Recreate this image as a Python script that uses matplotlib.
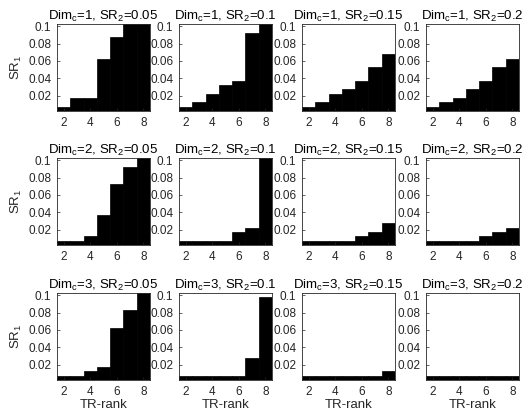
import matplotlib
matplotlib.use("Agg")
import matplotlib.pyplot as plt
import numpy as np

plt.rcParams['font.family'] = ['Liberation Sans', 'DejaVu Sans']
plt.rcParams['mathtext.default'] = 'regular'

ranks = [2, 3, 4, 5, 6, 7, 8]
dims = [1, 2, 3]
sr2_values = ["0.05", "0.1", "0.15", "0.2"]

# top edge of the black region (SR_1) for every TR-rank, one list per panel
dim1_sr2_005 = [0.0075, 0.0175, 0.0175, 0.0625, 0.0875, 0.1025, 0.1025]
dim1_sr2_010 = [0.0075, 0.0125, 0.0225, 0.0325, 0.0375, 0.0925, 0.1025]
dim1_sr2_015 = [0.0075, 0.0125, 0.0225, 0.0275, 0.0375, 0.0525, 0.0675]
dim1_sr2_020 = [0.0075, 0.0125, 0.0175, 0.0275, 0.0375, 0.0525, 0.0625]

dim2_sr2_005 = [0.0075, 0.0075, 0.0125, 0.0375, 0.0725, 0.0925, 0.1025]
dim2_sr2_010 = [0.0075, 0.0075, 0.0075, 0.0075, 0.0175, 0.0225, 0.1025]
dim2_sr2_015 = [0.0075, 0.0075, 0.0075, 0.0075, 0.0125, 0.0175, 0.0275]
dim2_sr2_020 = [0.0075, 0.0075, 0.0075, 0.0075, 0.0125, 0.0175, 0.0225]

dim3_sr2_005 = [0.0075, 0.0075, 0.0125, 0.0175, 0.0625, 0.0825, 0.1025]
dim3_sr2_010 = [0.0075, 0.0075, 0.0075, 0.0075, 0.0075, 0.0275, 0.0975]
dim3_sr2_015 = [0.0075, 0.0075, 0.0075, 0.0075, 0.0075, 0.0075, 0.0125]
dim3_sr2_020 = [0.0075, 0.0075, 0.0075, 0.0075, 0.0075, 0.0075, 0.0075]

panels = [
    [dim1_sr2_005, dim1_sr2_010, dim1_sr2_015, dim1_sr2_020],
    [dim2_sr2_005, dim2_sr2_010, dim2_sr2_015, dim2_sr2_020],
    [dim3_sr2_005, dim3_sr2_010, dim3_sr2_015, dim3_sr2_020],
]

W, H = 527, 415
fig = plt.figure(figsize=(W / 100, H / 100), dpi=100)

lefts = [57, 179, 302, 426]
tops = [24, 158, 293]
aw, ah = 93, 87

for r in range(3):
    for c in range(4):
        ax = fig.add_axes([lefts[c] / W, 1 - (tops[r] + ah) / H, aw / W, ah / H])
        ax.bar(ranks, panels[r][c], width=1, color='k', edgecolor='k', linewidth=0.5)
        ax.set_xlim(1.5, 8.5)
        ax.set_ylim(0.0025, 0.1025)
        ax.set_xticks([2, 4, 6, 8])
        ax.set_yticks([0.02, 0.04, 0.06, 0.08, 0.1])
        ax.set_yticklabels(["0.02", "0.04", "0.06", "0.08", "0.1"])
        ax.tick_params(direction='in', length=2, labelsize=8.5, colors='#262626',
                       width=0.5, pad=4)
        for s in ax.spines.values():
            s.set_linewidth(0.6)
            s.set_color('#262626')
        ax.set_title("Dim$_c$=%d, SR$_2$=%s" % (dims[r], sr2_values[c]),
                     fontsize=9.5, pad=3)
        if c == 0:
            ax.set_ylabel("SR$_1$", fontsize=9.5, labelpad=3, color='#262626')
        if r == 2:
            ax.set_xlabel("TR-rank", fontsize=9.5, labelpad=1, color='#262626')

fig.savefig("out.png", dpi=100)
